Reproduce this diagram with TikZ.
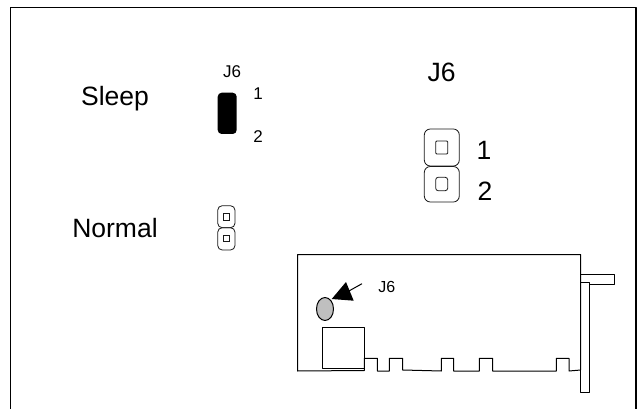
\documentclass[tikz,border=0pt]{standalone}
\usepackage{fontspec}
\setmainfont{Liberation Sans}
\tikzset{
  line/.style={draw=black,line width=1pt,line join=round},
  thin line/.style={draw=black!90,line width=0.8pt},
  lbl/.style={inner sep=0pt,text=black,anchor=base},
  big lbl/.style={lbl,font=\fontsize{26.5}{26.5}\selectfont},
  small lbl/.style={lbl,font=\fontsize{17}{17}\selectfont},
}
\begin{document}
\begin{tikzpicture}[x=1pt,y=-1pt]
\useasboundingbox (0,0) rectangle (637,409);
\fill[white] (0,0) rectangle (637,409);
% frame
\draw[line,line width=1.2pt] (10.5,409) -- (10.5,7.5) -- (636,7.5) -- (636,409);
% labels
\node[big lbl] (sleep) at (115,106) {Sleep};
\node[big lbl] (normal) at (115,237.7) {Normal};
\node[small lbl] (j6a) at (232,77.3) {J6};
\node[small lbl] (one) at (258,99.3) {1};
\node[small lbl] (two) at (258,142.7) {2};
\node[big lbl] (j6b) at (441.5,81.7) {J6};
\node[big lbl] (oneb) at (484,159) {1};
\node[big lbl] (twob) at (485,200) {2};
\node[small lbl,font=\fontsize{16}{16}\selectfont] (j6c) at (386.7,292.3) {J6};
% sleep jumper
\fill[black,rounded corners=4pt] (217.7,92.7) rectangle (236.7,134);
% normal jumper, small
\draw[thin line,rounded corners=4.5pt] (217.7,205.7) rectangle (235,227.7);
\draw[thin line,rounded corners=4.5pt] (217.7,227.7) rectangle (235,250);
\draw[thin line] (223.3,213.3) rectangle (229.3,220);
\draw[thin line] (223.3,235) rectangle (229.3,241.7);
% large jumper
\draw[thin line,rounded corners=6pt] (424.3,129) rectangle (459.3,166);
\draw[thin line,rounded corners=6pt] (424.3,166.5) rectangle (459.3,202);
\draw[thin line,rounded corners=1pt] (435.7,141) rectangle (447.7,154);
\draw[thin line,rounded corners=2.5pt] (435.7,177.3) rectangle (447.7,190.7);
% card
\draw[line] (580.7,370) -- (580.7,254.7) -- (297.5,254.7) -- (297.5,371) -- (364.3,370.5)
  -- (364.3,358.3) -- (377.3,358.3) -- (377.3,371) -- (389.3,371) -- (389.3,358.3)
  -- (402.7,358.3) -- (402.7,370) -- (441.3,371) -- (441.3,358.3) -- (453.7,358.3)
  -- (453.7,371) -- (479.3,371) -- (479.3,358.3) -- (492.7,358.3) -- (492.7,371)
  -- (556.3,371) -- (556.3,358.3) -- (569,358.3) -- (569,371) -- (580.7,370);
\draw[line] (322,327.3) rectangle (364.3,368.7);
% bracket
\draw[line] (580.7,282.7) rectangle (589.3,392.7);
\draw[line] (580.7,274) -- (614.3,274) -- (614.3,284) -- (589.3,284);
% connector position marker
\draw[line,fill=black!25] (325,309) ellipse (8.5pt and 11.5pt);
\fill[black] (331.7,299) -- (346,282) -- (353.7,300.7) -- cycle;
\draw[line] (348,291.5) -- (362,283.7);
\end{tikzpicture}
\end{document}
